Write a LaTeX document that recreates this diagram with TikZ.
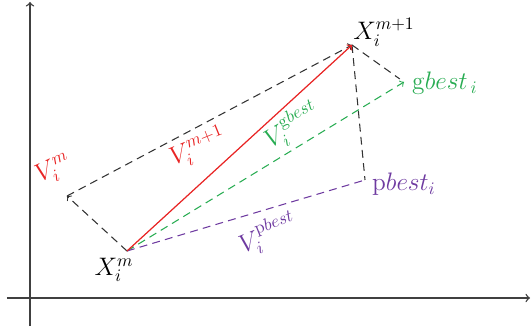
\documentclass[tikz,border=0pt]{standalone}
\usepackage{amsmath}
\usepackage[dvipsnames]{xcolor}
\definecolor{vrouge}{RGB}{232,36,36}
\definecolor{vvert}{RGB}{40,172,82}
\definecolor{vviolet}{RGB}{110,58,160}

\begin{document}
\begin{tikzpicture}[scale=0.8,
  every node/.style={font=\Large},
  axe/.style={->,black!75,line width=0.8pt},
  tirets/.style={dash pattern=on 4.5pt off 3pt,line width=0.6pt}]
\useasboundingbox (-0.75,-0.8) rectangle (12.55,7.45);

%axes
\coordinate (xa) at (-0.575,0);
\coordinate (xb) at (12.5,0);
\coordinate (ya) at (0,-0.7);
\coordinate (yb) at (0,7.4);
\draw[axe] (xa) -- (xb);
\draw[axe] (ya) -- (yb);

%points
\coordinate (Xm) at (2.425,1.175);
\coordinate (Xmp) at (8.05,6.325);
\coordinate (Vm) at (0.925,2.55);
\coordinate (gb) at (9.35,5.4);
\coordinate (pb) at (8.375,2.95);

%parallelogramme
\draw[tirets,->,black!80] (Xm) -- (Vm);
\draw[tirets,->,black!80] (Vm) -- (Xmp);
\draw[tirets,black!80,shorten >=3pt] (Xmp) -- (gb);
\draw[tirets,black!80] (Xmp) -- (pb);

%vitesses
\draw[tirets,->,vvert] (Xm) -- (gb);
\draw[tirets,vviolet] (Xm) -- (pb);
\draw[->,vrouge,line width=0.7pt] (Xm) -- (Xmp);

%labels
\node (lXm) at (2.1,0.7) {$X_i^m$};
\node (lXmp) at (8.85,6.65) {$X_i^{m+1}$};
\node[vrouge,rotate=25] (lVm) at (0.6,3.2) {$V_i^m$};
\node[vrouge,rotate=22] (lVmp) at (4.2,3.75) {$V_i^{m+1}$};
\node[vvert,rotate=30] (lVg) at (6.55,4.3) {$V_i^{\mathrm{g}best}$};
\node[vviolet,rotate=22] (lVp) at (5.95,1.6) {$V_i^{\mathrm{p}best}$};
\node[vvert,anchor=west] (lgb) at (9.4,5.375) {$\mathrm{g}best_{\,i}$};
\node[vviolet,anchor=west] (lpb) at (8.4,2.85) {$\mathrm{p}best_i$};

\end{tikzpicture}
\end{document}
